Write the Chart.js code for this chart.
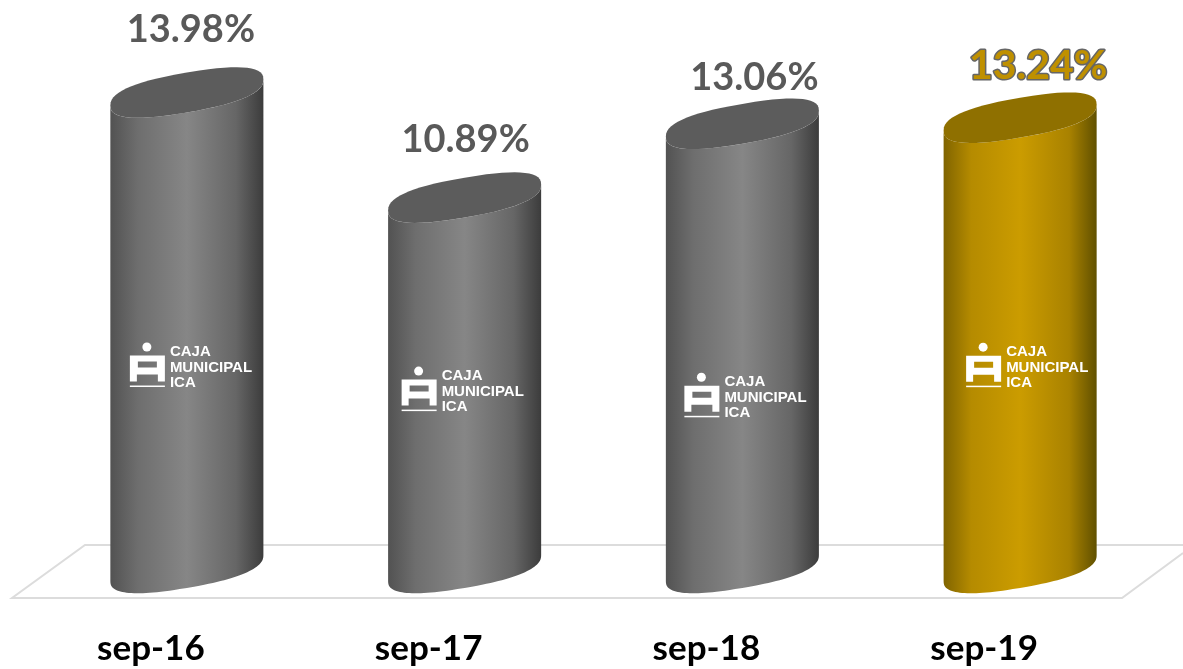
<!DOCTYPE html>
<html>
<head>
<meta charset="utf-8">
<style>
    html, body { margin: 0; padding: 0; background: #fff; overflow: hidden; }
    canvas { display: block; }
</style>
<script src="https://cdn.jsdelivr.net/npm/chart.js@4"></script>
</head>
<body>
<canvas id="myChart" width="1183" height="669"></canvas>
<script>
const categories = ['sep-16', 'sep-17', 'sep-18', 'sep-19'];
const values = [13.98, 10.89, 13.06, 13.24];

// label and logo don't sit at a fixed distance from the bars in the picture
const labelNudge = [[4, -63], [1, -58], [12, -46], [18, -52]];
const logoNudge = [[-57, 250], [-63, 169], [-58, 249], [-54, 225]];

const grey = { edgeL: '#525252', soft: '#6e6e6e', mid: '#868686', softR: '#666666', edgeR: '#3c3c3c', top: '#5c5c5c' };
const gold = { edgeL: '#806400', soft: '#b58b00', mid: '#cb9c00', softR: '#a98200', edgeR: '#605000', top: '#8f7000' };
const barColors = [grey, grey, grey, gold];

function drawLogo(ctx, x, y) {
    ctx.save();
    ctx.translate(x, y);
    ctx.fillStyle = '#fff';
    ctx.beginPath();
    ctx.arc(17, 4.5, 4.5, 0, Math.PI * 2);
    ctx.fill();

    ctx.beginPath();
    ctx.rect(0, 13, 35, 26);
    ctx.rect(8, 19, 19, 6);
    ctx.rect(7, 32, 21, 7);
    ctx.fill('evenodd');
    ctx.fillRect(0, 43, 35, 1.5);

    ctx.font = 'bold 15px "Liberation Sans"';
    ctx.textBaseline = 'middle';
    ctx.fillText('CAJA', 40, 9.5);
    ctx.fillText('MUNICIPAL', 40, 25);
    ctx.fillText('ICA', 40, 40.5);
    ctx.restore();
}

// sheared, slightly squarish ellipse; adds the arc from t1 to t2 to the path
function capArc(ctx, cx, cy, w, t1, t2) {
    const n = 2.5;
    const steps = 60;
    for (let k = 0; k <= steps; k++) {
        const t = t1 + (t2 - t1) * k / steps;
        const c = Math.cos(t);
        const s = Math.sin(t);
        const u = Math.sign(c) * Math.pow(Math.abs(c), 2 / n);
        const v = Math.sign(s) * Math.pow(Math.abs(s), 2 / n);
        ctx.lineTo(cx + w / 2 * u, cy - w * 0.085 * u + w * 0.13 * v);
    }
}

const cylinderPlugin = {
    id: 'cylinder',
    beforeDatasetsDraw(chart) {
        // floor behind the bars
        const ctx = chart.ctx;
        const bottom = chart.chartArea.bottom;
        ctx.save();
        ctx.strokeStyle = '#dcdcdc';
        ctx.lineWidth = 2;
        ctx.beginPath();
        ctx.moveTo(1183, bottom - 23);
        ctx.lineTo(85, bottom - 23);
        ctx.lineTo(12, bottom + 30);
        ctx.lineTo(1122, bottom + 30);
        ctx.lineTo(1183, bottom - 15);
        ctx.stroke();
        ctx.restore();
    },
    afterDatasetsDraw(chart) {
        const ctx = chart.ctx;
        const meta = chart.getDatasetMeta(0);

        meta.data.forEach((bar, i) => {
            const p = bar.getProps(['x', 'y', 'base', 'width'], true);
            const c = barColors[i];
            const left = p.x - p.width / 2;
            const right = p.x + p.width / 2;

            const grad = ctx.createLinearGradient(left, 0, right, 0);
            grad.addColorStop(0, c.edgeL);
            grad.addColorStop(0.18, c.soft);
            grad.addColorStop(0.5, c.mid);
            grad.addColorStop(0.82, c.softR);
            grad.addColorStop(1, c.edgeR);

            ctx.save();
            ctx.fillStyle = grad;
            ctx.beginPath();
            capArc(ctx, p.x, p.y, p.width, Math.PI, 0);
            capArc(ctx, p.x, p.base, p.width, 0, Math.PI);
            ctx.closePath();
            ctx.fill();

            ctx.fillStyle = c.top;
            ctx.beginPath();
            capArc(ctx, p.x, p.y, p.width, 0, Math.PI * 2);
            ctx.closePath();
            ctx.fill();
            ctx.restore();

            drawLogo(ctx, p.x + logoNudge[i][0], p.y + logoNudge[i][1]);

            // value label
            const txt = values[i].toFixed(2) + '%';
            const lx = p.x + labelNudge[i][0];
            const ly = p.y + labelNudge[i][1];
            ctx.save();
            ctx.textAlign = 'center';
            ctx.textBaseline = 'middle';
            if (i === 3) {
                ctx.font = '700 41px Lato';
                ctx.lineWidth = 3;
                ctx.lineJoin = 'round';
                ctx.strokeStyle = '#666666';
                ctx.strokeText(txt, lx, ly);
                ctx.fillStyle = '#bf9000';
            } else {
                ctx.font = '700 38px Lato';
                ctx.fillStyle = '#595959';
            }
            ctx.fillText(txt, lx, ly);
            ctx.restore();
        });
    }
};

new Chart(document.getElementById('myChart'), {
    type: 'bar',
    data: {
        labels: categories,
        datasets: [{
            data: values,
            backgroundColor: 'transparent',
            barPercentage: 0.551,
            categoryPercentage: 1
        }]
    },
    options: {
        responsive: false,
        animation: false,
        layout: { padding: { left: 48, right: 24 } },
        plugins: { legend: { display: false }, tooltip: { enabled: false } },
        scales: {
            x: {
                grid: { display: false },
                border: { display: false },
                afterFit: (scale) => { scale.height = 101; },
                ticks: {
                    padding: 52,
                    labelOffset: -36,
                    maxRotation: 0,
                    color: '#000',
                    font: { family: 'Lato', size: 35, weight: '700' }
                }
            },
            y: { display: false, min: 0, max: 16.7 }
        }
    },
    plugins: [cylinderPlugin]
});
</script>
</body>
</html>
